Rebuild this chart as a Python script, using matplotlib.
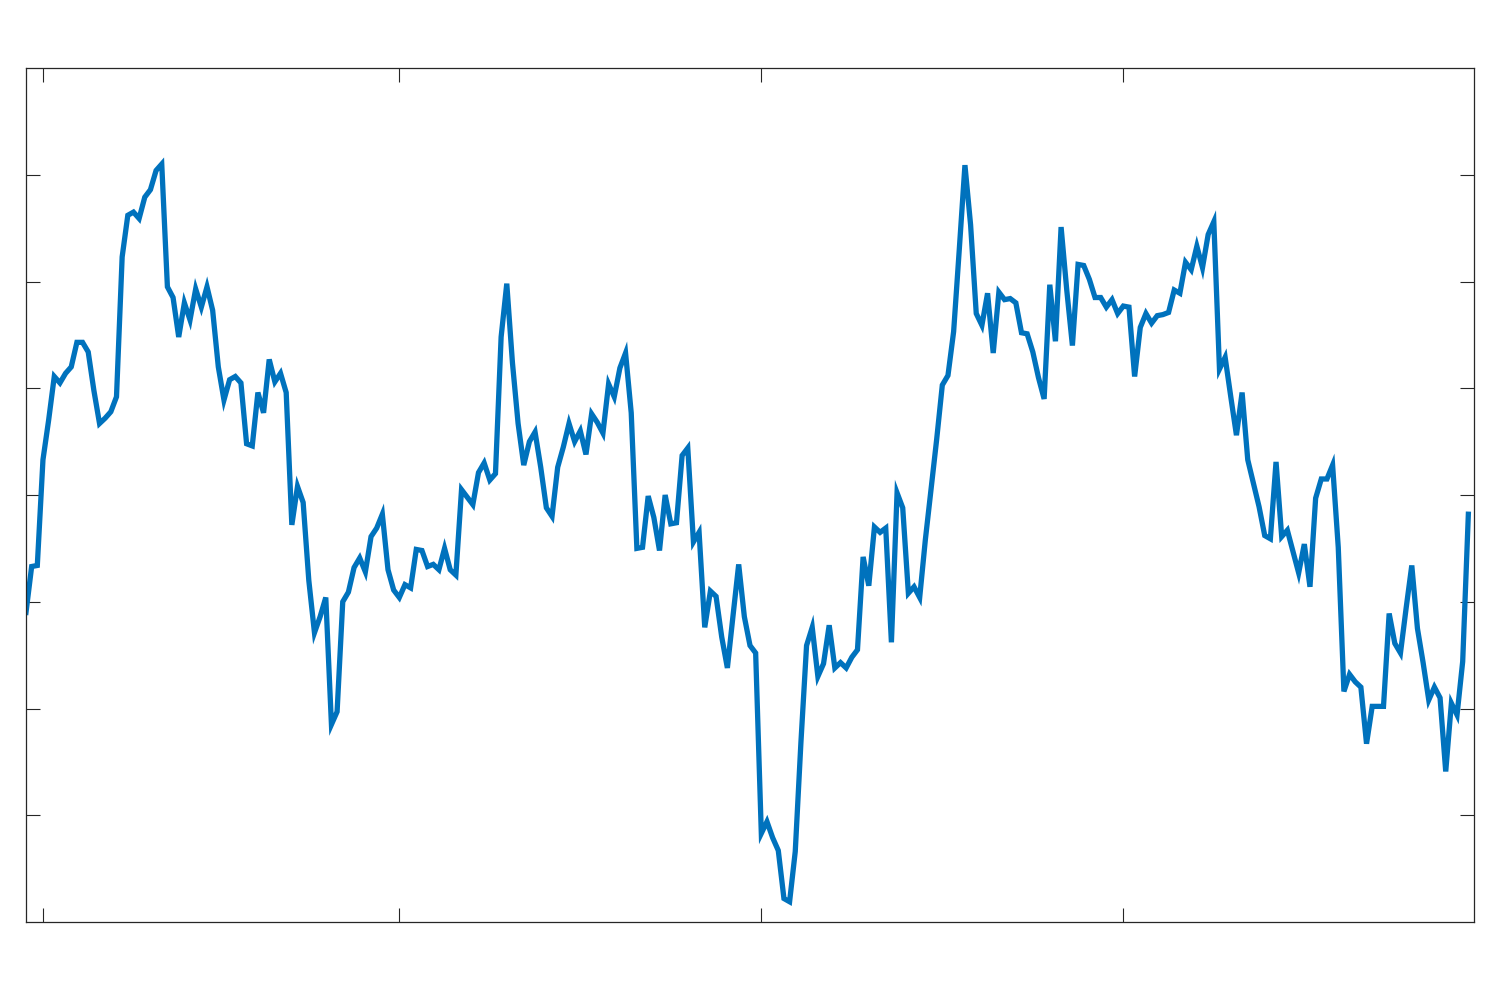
import numpy as np
import matplotlib
matplotlib.use("Agg")
import matplotlib.pyplot as plt

# daily series (256 samples)
values = [
    2.90, 3.33, 3.34, 4.33, 4.70, 5.11, 5.05, 5.14, 5.20, 5.43,
    5.43, 5.34, 4.98, 4.67, 4.72, 4.78, 4.92, 6.23, 6.62, 6.65,
    6.59, 6.79, 6.86, 7.04, 7.10, 5.95, 5.85, 5.48, 5.80, 5.64,
    5.93, 5.76, 5.95, 5.73, 5.20, 4.89, 5.08, 5.11, 5.05, 4.48,
    4.46, 4.96, 4.77, 5.27, 5.06, 5.14, 4.96, 3.72, 4.08, 3.93,
    3.20, 2.71, 2.86, 3.04, 1.85, 1.97, 3.00, 3.09, 3.32, 3.41,
    3.28, 3.61, 3.69, 3.82, 3.30, 3.11, 3.04, 3.16, 3.13, 3.49,
    3.48, 3.33, 3.35, 3.30, 3.50, 3.30, 3.25, 4.05, 3.98, 3.91,
    4.21, 4.30, 4.14, 4.20, 5.48, 5.98, 5.24, 4.67, 4.28, 4.50,
    4.59, 4.26, 3.88, 3.80, 4.26, 4.45, 4.67, 4.50, 4.60, 4.38,
    4.76, 4.68, 4.58, 5.04, 4.92, 5.19, 5.33, 4.77, 3.50, 3.51,
    3.99, 3.79, 3.48, 4.00, 3.73, 3.74, 4.37, 4.44, 3.56, 3.65,
    2.76, 3.10, 3.05, 2.67, 2.38, 2.87, 3.35, 2.86, 2.59, 2.52,
    0.83, 0.94, 0.79, 0.67, 0.22, 0.19, 0.66, 1.68, 2.59, 2.76,
    2.30, 2.42, 2.78, 2.38, 2.43, 2.38, 2.48, 2.55, 3.42, 3.15,
    3.70, 3.65, 3.69, 2.62, 4.02, 3.88, 3.08, 3.14, 3.04, 3.58,
    4.05, 4.52, 5.03, 5.12, 5.53, 6.30, 7.09, 6.53, 5.70, 5.59,
    5.89, 5.33, 5.90, 5.83, 5.84, 5.80, 5.52, 5.51, 5.34, 5.10,
    4.90, 5.97, 5.44, 6.51, 5.92, 5.40, 6.16, 6.15, 6.02, 5.85,
    5.85, 5.76, 5.83, 5.70, 5.77, 5.76, 5.11, 5.57, 5.70, 5.61,
    5.68, 5.69, 5.71, 5.92, 5.89, 6.18, 6.11, 6.33, 6.13, 6.44,
    6.56, 5.18, 5.29, 4.92, 4.56, 4.96, 4.33, 4.11, 3.89, 3.62,
    3.59, 4.31, 3.61, 3.67, 3.47, 3.27, 3.54, 3.14, 3.97, 4.15,
    4.15, 4.28, 3.51, 2.16, 2.32, 2.25, 2.20, 1.67, 2.02, 2.02,
    2.02, 2.89, 2.61, 2.52, 2.94, 3.34, 2.75, 2.43, 2.08, 2.20,
    2.10, 1.41, 2.05, 1.94, 2.44, 3.82,
]
days = np.arange(len(values))
x_ticks = [3, 66, 130, 194]
y_ticks = [1, 2, 3, 4, 5, 6, 7]

fig = plt.figure(figsize=(15, 10), dpi=100)
ax = fig.add_axes([0.01733, 0.078, 0.96534, 0.854])

ax.plot(days, values, color="#0072BD", linewidth=3.8, solid_joinstyle="miter")

ax.set_xlim(0, 256)
ax.set_ylim(0, 8)
ax.set_xticks(x_ticks)
ax.set_yticks(y_ticks)
ax.set_xticklabels([])
ax.set_yticklabels([])
ax.tick_params(direction="in", length=10, width=0.8, color="#262626",
               top=True, right=True)
for s in ax.spines.values():
    s.set_color("#262626")
    s.set_linewidth(0.9)

fig.savefig("out.png", dpi=100)
